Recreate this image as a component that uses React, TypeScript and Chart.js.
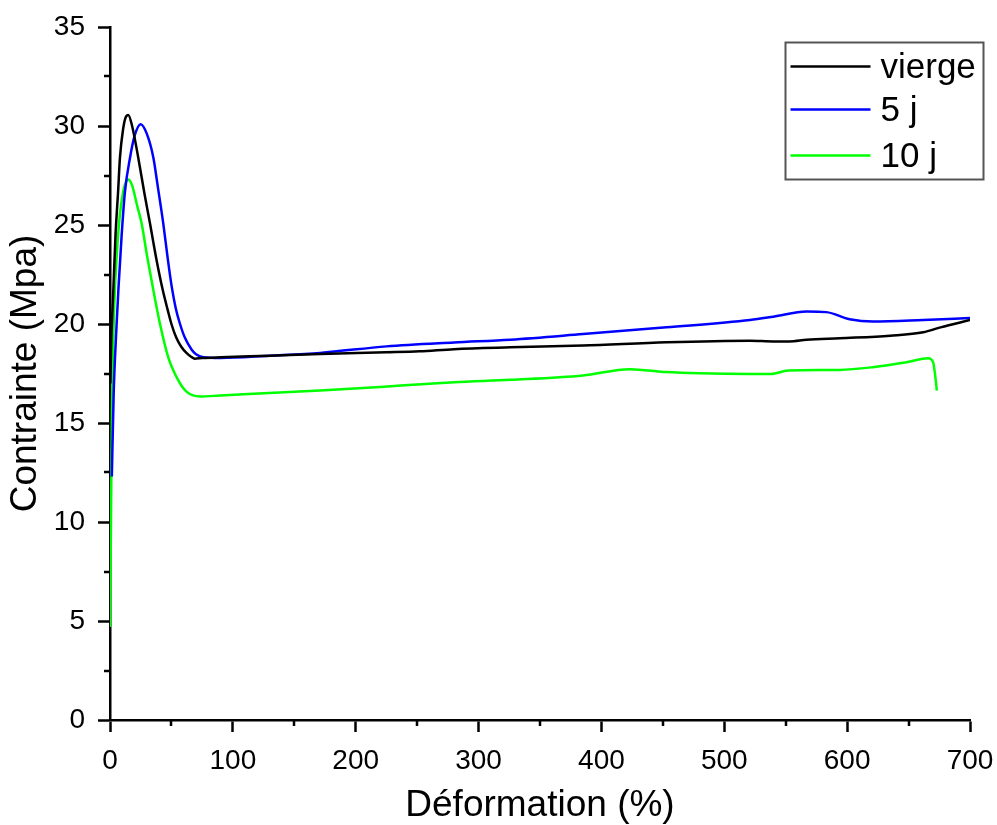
import React, { useEffect, useRef } from "react";
import { Chart, registerables } from "chart.js";

Chart.register(...registerables);

const seriesLabels = ["vierge", "5 j", "10 j"];
const seriesColors = ["#000000", "#0000ff", "#00ff00"];

const viergeX = [0.3, 1, 2.7, 4.5, 6.6, 8.1, 10.8, 12.5, 14.9, 18, 23, 28, 32.6, 38, 43, 47, 50, 54, 58, 62, 66, 69, 75, 90, 130, 171, 225, 252, 280, 326, 385, 453, 521, 540, 553, 567, 594, 635, 662, 676, 700];
const viergeY = [17.0, 19.0, 21.7, 24.5, 26.7, 28.4, 29.9, 30.4, 30.56, 30.0, 28.4, 26.6, 25.06, 23.2, 21.7, 20.7, 20.0, 19.3, 18.85, 18.55, 18.35, 18.25, 18.28, 18.32, 18.4, 18.49, 18.57, 18.62, 18.73, 18.82, 18.91, 19.08, 19.16, 19.12, 19.12, 19.2, 19.28, 19.41, 19.58, 19.83, 20.2];

const cinqX = [1.5, 3, 5, 6.8, 9.5, 12.2, 16.3, 20, 25, 30, 35.3, 39, 43.4, 47, 50.2, 53.5, 57, 61, 66.5, 70, 76, 90, 130, 171, 225, 280, 326, 385, 453, 521, 540, 567, 583, 602, 621, 662, 700];
const cinqY = [12.3, 16.5, 19.5, 21.7, 24.5, 26.7, 28.4, 29.5, 30.09, 29.6, 28.4, 26.9, 25.06, 23.3, 21.9, 20.8, 20.0, 19.3, 18.7, 18.47, 18.32, 18.28, 18.4, 18.54, 18.87, 19.07, 19.21, 19.49, 19.83, 20.2, 20.37, 20.63, 20.6, 20.24, 20.12, 20.2, 20.3];

const dixX = [0, 0.8, 1.5, 3, 5.4, 8, 10.8, 12.5, 14.9, 18, 22, 25.8, 30, 35.3, 40.7, 47.5, 55.6, 62, 73, 90, 171, 225, 280, 326, 385, 423, 453, 480, 521, 538, 552, 594, 621, 648.5, 666, 670, 671.5, 673];
const dixY = [4.7, 10, 15, 20, 23.4, 25.5, 26.7, 27.1, 27.3, 27.0, 26.0, 25.06, 23.5, 21.7, 20.0, 18.3, 17.15, 16.6, 16.34, 16.39, 16.64, 16.84, 17.06, 17.18, 17.4, 17.72, 17.57, 17.51, 17.48, 17.48, 17.65, 17.68, 17.82, 18.07, 18.27, 18.07, 17.48, 16.64];

const xMinorTicks = [50, 150, 250, 350, 450, 550, 650];
const yMinorTicks = [2.5, 7.5, 12.5, 17.5, 22.5, 27.5, 32.5];

const FONT = "'Liberation Sans', Arial, Helvetica, sans-serif";

function toPoints(xs: number[], ys: number[]) {
  return xs.map((x, i) => ({ x, y: ys[i] }));
}

const extrasPlugin = {
  id: "extras",
  afterDraw(chart: any) {
    const ctx = chart.ctx;
    const xs = chart.scales.x;
    const ys = chart.scales.y;
    const area = chart.chartArea;
    ctx.save();
    ctx.strokeStyle = "#000";
    ctx.lineWidth = 2.5;
    ctx.beginPath();
    xMinorTicks.forEach((v) => {
      const px = Math.round(xs.getPixelForValue(v));
      ctx.moveTo(px, area.bottom);
      ctx.lineTo(px, area.bottom + 6);
    });
    yMinorTicks.forEach((v) => {
      const py = Math.round(ys.getPixelForValue(v));
      ctx.moveTo(area.left - 6, py);
      ctx.lineTo(area.left, py);
    });
    ctx.stroke();

    // legend
    const boxL = area.right - 184.5;
    const boxT = area.top + 15.5;
    const boxW = 198;
    const boxH = 137;
    ctx.fillStyle = "#fff";
    ctx.fillRect(boxL, boxT, boxW, boxH);
    ctx.strokeStyle = "#555";
    ctx.lineWidth = 2;
    ctx.strokeRect(boxL, boxT, boxW, boxH);
    const rows = [24, 67, 113];
    ctx.font = `35px ${FONT}`;
    ctx.textAlign = "left";
    ctx.textBaseline = "alphabetic";
    chart.data.datasets.forEach((ds: any, i: number) => {
      const ry = boxT + rows[i];
      ctx.strokeStyle = ds.borderColor;
      ctx.lineWidth = 2.5;
      ctx.beginPath();
      ctx.moveTo(boxL + 5, ry);
      ctx.lineTo(boxL + 85, ry);
      ctx.stroke();
      ctx.fillStyle = "#000";
      ctx.fillText(ds.label, boxL + 95, ry + 11);
    });
    ctx.restore();
  },
};

export default function App() {
  const ref = useRef<HTMLCanvasElement>(null);
  useEffect(() => {
    document.body.style.margin = "0";
    const canvas = ref.current!;
    const chart = new Chart(canvas, {
      type: "line",
      data: {
        datasets: [
          { label: seriesLabels[0], data: toPoints(viergeX, viergeY), borderColor: seriesColors[0], backgroundColor: seriesColors[0] },
          { label: seriesLabels[1], data: toPoints(cinqX, cinqY), borderColor: seriesColors[1], backgroundColor: seriesColors[1] },
          { label: seriesLabels[2], data: toPoints(dixX, dixY), borderColor: seriesColors[2], backgroundColor: seriesColors[2] },
        ].map((d) => ({
          ...d,
          borderWidth: 2.5,
          pointRadius: 0,
          fill: false,
          cubicInterpolationMode: "monotone" as const,
        })),
      },
      options: {
        animation: false,
        responsive: false,
        maintainAspectRatio: false,
        layout: { padding: { left: 0, right: 27, top: 27, bottom: 0 } },
        plugins: { legend: { display: false }, tooltip: { enabled: false } },
        scales: {
          x: {
            type: "linear",
            min: 0,
            max: 700,
            afterFit: (s: any) => {
              s.height = 105;
              s.paddingLeft = 0;
              s.paddingRight = 0;
            },
            ticks: { stepSize: 100, color: "#000", padding: 12, font: { family: FONT, size: 28 } },
            grid: { drawOnChartArea: false, drawTicks: true, tickLength: 12, tickWidth: 2.5, tickColor: "#000" },
            border: { display: true, color: "#000", width: 2.5 },
            title: {
              display: true,
              text: "Déformation (%)",
              color: "#000",
              font: { family: FONT, size: 37, lineHeight: 1 },
              padding: { top: 0, bottom: 1 },
            },
          },
          y: {
            type: "linear",
            min: 0,
            max: 35,
            afterFit: (s: any) => {
              s.width = 110;
              s.paddingTop = 0;
              s.paddingBottom = 0;
            },
            ticks: { stepSize: 5, color: "#000", padding: 13, font: { family: FONT, size: 28 } },
            grid: { drawOnChartArea: false, drawTicks: true, tickLength: 12, tickWidth: 2.5, tickColor: "#000" },
            border: { display: true, color: "#000", width: 2.5 },
            title: {
              display: true,
              text: "Contrainte (Mpa)",
              color: "#000",
              font: { family: FONT, size: 37, lineHeight: 1 },
              padding: { top: 7, bottom: 0 },
            },
          },
        },
      },
      plugins: [extrasPlugin],
    });
    return () => chart.destroy();
  }, []);
  return (
    <div style={{ width: 997, height: 825 }}>
      <canvas ref={ref} width={997} height={825} />
    </div>
  );
}
